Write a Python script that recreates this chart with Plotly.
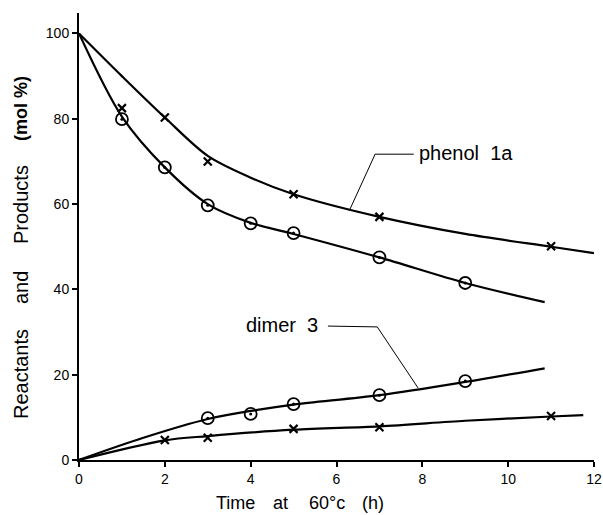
import plotly.graph_objects as go

# Measured points (markers)
phenol_x_t = [1, 2, 3, 5, 7, 11]
phenol_x_v = [82.5, 80.3, 70, 62.3, 57, 50.1]
phenol_o_t = [1, 2, 3, 4, 5, 7, 9]
phenol_o_v = [79.9, 68.6, 59.7, 55.5, 53.2, 47.5, 41.5]
dimer_o_t = [3, 4, 5, 7, 9]
dimer_o_v = [9.8, 10.8, 13.1, 15.2, 18.5]
dimer_x_t = [2, 3, 5, 7, 11]
dimer_x_v = [4.7, 5.2, 7.3, 7.7, 10.3]

# Hand-drawn smooth curves
curve_px_t = [0, 1, 2, 3, 4, 5, 7, 9, 11, 12]
curve_px_v = [100, 90, 80.3, 71.3, 66.2, 62.3, 57, 53, 50, 48.5]
curve_po_t = [0, 1, 2, 3, 4, 5, 7, 9, 10.85]
curve_po_v = [100, 80.5, 68.6, 60, 55.6, 53, 47.5, 41.5, 37]
curve_do_t = [0, 1.5, 3, 4, 5, 7, 9, 10.85]
curve_do_v = [0, 5.2, 9.6, 11.5, 13, 15.2, 18.3, 21.5]
curve_dx_t = [0, 2, 3, 5, 7, 9, 11, 11.75]
curve_dx_v = [0, 4.6, 5.6, 7.1, 7.9, 9.2, 10.2, 10.5]

x_ticks = [0, 2, 4, 6, 8, 10, 12]
y_ticks = [0, 20, 40, 60, 80, 100]

FONT = "Liberation Sans, Arial, sans-serif"

# plot area in pixels (for placing titles outside the axes)
L, R, T, B = 79, 594, 13, 460
def px(x):
    return (x - L) / (R - L)
def py(y):
    return (B - y) / (B - T)

fig = go.Figure()
line = dict(color="black", width=2.2, shape="spline", smoothing=0.9)
for t, v in [(curve_px_t, curve_px_v), (curve_po_t, curve_po_v),
             (curve_do_t, curve_do_v), (curve_dx_t, curve_dx_v)]:
    fig.add_trace(go.Scatter(x=t, y=v, mode="lines", line=line, hoverinfo="skip"))

xm = dict(symbol="x-thin", size=8, color="black", line=dict(color="black", width=2.2))
om = dict(symbol="circle-open", size=12, color="black", line=dict(color="black", width=1.8))
dm = dict(symbol="circle", size=3, color="black")
for t, v, m in [(phenol_x_t, phenol_x_v, xm), (dimer_x_t, dimer_x_v, xm),
                (phenol_o_t, phenol_o_v, om), (dimer_o_t, dimer_o_v, om),
                (phenol_o_t, phenol_o_v, dm), (dimer_o_t, dimer_o_v, dm)]:
    fig.add_trace(go.Scatter(x=t, y=v, mode="markers", marker=m))

# leader lines for labels
fig.add_trace(go.Scatter(x=[7.8, 6.9, 6.3], y=[71.7, 71.7, 58.5], mode="lines",
                         line=dict(color="black", width=1), hoverinfo="skip"))
fig.add_trace(go.Scatter(x=[5.8, 6.95, 7.9], y=[31.4, 31.2, 16.9], mode="lines",
                         line=dict(color="black", width=1), hoverinfo="skip"))

lab_font = dict(family=FONT, size=20, color="black")
fig.add_annotation(x=7.88, y=71.9, text="phenol\u00a0 1a", showarrow=False, xanchor="left",
                   yanchor="middle", font=lab_font)
fig.add_annotation(x=5.62, y=31.6, text="dimer\u00a0 3", showarrow=False, xanchor="right",
                   yanchor="middle", font=lab_font)

# y axis title, word by word
for word, cy, bold in [("Reactants", 374, False), ("and", 288, False),
                       ("Products", 205, False), ("(mol\u00a0%)", 109, True)]:
    fig.add_annotation(xref="paper", yref="paper", x=px(21), y=py(cy), textangle=-90,
                       xanchor="center", yanchor="middle",
                       text=f"<b>{word}</b>" if bold else word, showarrow=False,
                       font=dict(family=FONT, size=18 if bold else 20, color="black"))

# x axis title, word by word
for word, cx in [("Time", 235), ("at", 280), ("60°c", 327), ("(h)", 373)]:
    fig.add_annotation(xref="paper", yref="paper", x=px(cx), y=py(503),
                       xanchor="center", yanchor="middle",
                       text=word, showarrow=False,
                       font=dict(family=FONT, size=18, color="black"))

axis_common = dict(showgrid=False, zeroline=False, showline=True, linecolor="black",
                   linewidth=2, ticks="outside", ticklen=5, tickcolor="black", tickwidth=1.5,
                   automargin=False,
                   tickfont=dict(family=FONT, size=14, color="black"))
fig.update_xaxes(range=[0, 12], tickvals=x_ticks, **axis_common)
fig.update_yaxes(range=[0, 104.8], tickvals=y_ticks, **axis_common)

fig.update_layout(width=603, height=515, showlegend=False,
                  plot_bgcolor="white", paper_bgcolor="white",
                  margin=dict(l=L, r=603 - R, t=T, b=515 - B))

fig.write_html("out.html", config={"displayModeBar": False},
               post_script="document.body.style.margin='0px';")
